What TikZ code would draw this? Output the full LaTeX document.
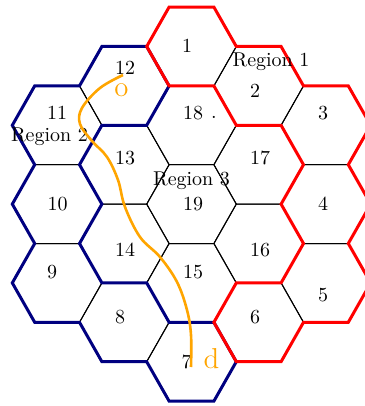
\documentclass[tikz,border=0pt]{standalone}
\definecolor{regred}{RGB}{255,0,0}
\definecolor{regblue}{RGB}{0,0,128}
\definecolor{pathorange}{RGB}{255,165,0}
\begin{document}
\begin{tikzpicture}[x=0.5pt,y=-0.5pt,
  cell/.style={draw=black, line width=0.5pt},
  redbound/.style={draw=regred, line width=1.5pt, line join=miter},
  bluebound/.style={draw=regblue, line width=1.5pt, line join=miter},
  route/.style={draw=pathorange, line width=1.3pt},
  num/.style={anchor=base, inner sep=0pt},
  endlabel/.style={anchor=base, inner sep=0pt, text=pathorange, font=\Large}]
\useasboundingbox (0,0) rectangle (364,406);
% hexagonal cells on a lattice of vertex points
\begin{scope}[shift={(191.5,7.1)}, x=11.2pt, y=-19.7pt]
  \foreach \k/\m in {0/1, 3/2, 6/3, 6/5, 6/7, 3/8, 0/9, -3/8, -6/7, -6/5, -6/3, -3/2,
                      -3/4, 0/3, 3/4, 3/6, 0/7, -3/6, 0/5} {
    \draw[cell] (\k+2,\m) -- (\k+1,\m-1) -- (\k-1,\m-1) -- (\k-2,\m)
                -- (\k-1,\m+1) -- (\k+1,\m+1) -- cycle;
  }
  % Region 2 boundary
  \draw[bluebound] (-1,2) -- (-2,3) -- (-4,3) -- (-5,4) -- (-4,5) -- (-5,6) -- (-4,7)
     -- (-2,7) -- (-1,8) -- (1,8) -- (2,9) -- (1,10) -- (-1,10) -- (-2,9) -- (-4,9)
     -- (-5,8) -- (-7,8) -- (-8,7) -- (-7,6) -- (-8,5) -- (-7,4) -- (-8,3) -- (-7,2)
     -- (-5,2) -- (-4,1) -- (-2,1) -- cycle;
  % Region 1 boundary
  \draw[redbound] (-2,1) -- (-1,0) -- (1,0) -- (2,1) -- (4,1) -- (5,2) -- (7,2) -- (8,3)
     -- (7,4) -- (8,5) -- (7,6) -- (8,7) -- (7,8) -- (5,8) -- (4,9) -- (2,9) -- (1,8)
     -- (2,7) -- (4,7) -- (5,6) -- (4,5) -- (5,4) -- (4,3) -- (2,3) -- (1,2) -- (-1,2)
     -- cycle;
\end{scope}
% cell numbers
\node[num] (n1)  at (187,53)  {1};
\node[num] (n2)  at (255,98)  {2};
\node[num] (n3)  at (323,120) {3};
\node[num] (n4)  at (323,210) {4};
\node[num] (n5)  at (323,301) {5};
\node[num] (n6)  at (255,323) {6};
\node[num] (n7)  at (186.5,368) {7};
\node[num] (n8)  at (120,323) {8};
\node[num] (n9)  at (52,278)  {9};
\node[num] (n10) at (57.5,210) {10};
\node[num] (n11) at (57,120)  {11};
\node[num] (n12) at (125,75)  {12};
\node[num] (n13) at (125,165) {13};
\node[num] (n14) at (125,256) {14};
\node[num] (n15) at (193,278) {15};
\node[num] (n16) at (260,256) {16};
\node[num] (n17) at (260,165) {17};
\node[num] (n18) at (193,120) {18};
\node[num] (n19) at (193,210) {19};
\node[num] (dot) at (214,119) {.};
% region names
\node[num] (reg1) at (271,67)  {Region 1};
\node[num] (reg2) at (49.5,142) {Region 2};
\node[num] (reg3) at (191.5,185) {Region 3};
% route from o to d
\coordinate (O) at (123,75);
\coordinate (D) at (191,367);
\node[endlabel] (olab) at (121.5,97) {o};
\node[endlabel] (dlab) at (211.5,368) {d};
\draw[route] plot[smooth, tension=0.6] coordinates {(O) (100,88) (82,108) (80,124)
  (92,141) (107,157) (118,180) (125,207) (140,237) (160,257) (177,282) (187,310)
  (191,335) (D)};
\end{tikzpicture}
\end{document}
